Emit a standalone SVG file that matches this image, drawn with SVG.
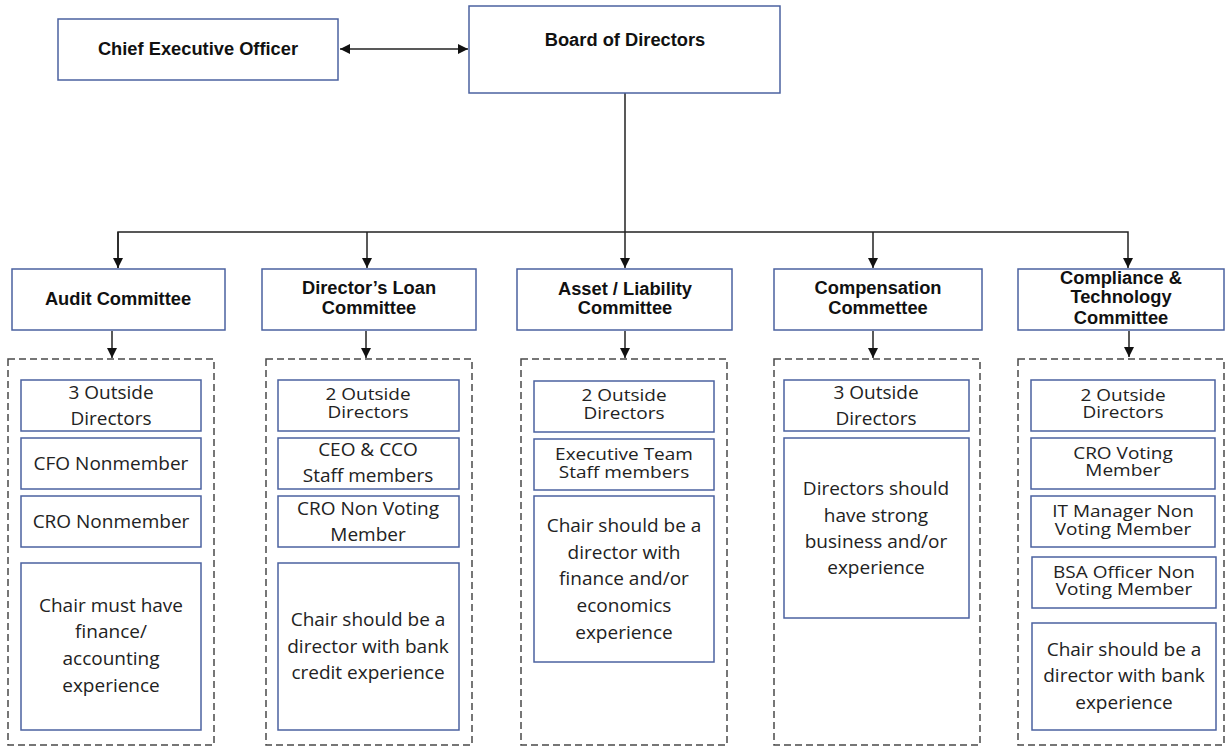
<svg xmlns="http://www.w3.org/2000/svg" width="1225" height="747" viewBox="0 0 1225 747">
  <defs>
    <marker id="arrow" viewBox="0 0 10 10" refX="10" refY="5" markerWidth="10" markerHeight="10" markerUnits="userSpaceOnUse" orient="auto-start-reverse">
      <path d="M0,0 L10,5 L0,10 Z" fill="#111"/>
    </marker>
  </defs>
  <style>
    .box { fill: #ffffff; stroke: #4b62a0; stroke-width: 1.5; }
    .group { fill: none; stroke: #4a4a4a; stroke-width: 1.5; stroke-dasharray: 7 4; }
    .head { font-family: "Liberation Sans", Arial, sans-serif; font-weight: bold; font-size: 18.3px; fill: #111; text-anchor: middle; }
    .item { font-family: "Open Sans", "Noto Sans", sans-serif; font-size: 19px; fill: #222; text-anchor: middle; }
    .conn { fill: none; stroke: #222; stroke-width: 1.5; }
  </style>
  <rect width="1225" height="747" fill="#ffffff"/>

  <!-- connectors -->
  <g id="connectors">
    <line class="conn" x1="340" y1="49" x2="468" y2="49" marker-start="url(#arrow)" marker-end="url(#arrow)"/>
    <line class="conn" x1="625" y1="93" x2="625" y2="268" marker-end="url(#arrow)"/>
    <polyline class="conn" points="118,268 118,232 1128,232 1128,268" marker-end="url(#arrow)"/>
    <line class="conn" x1="118" y1="232" x2="118" y2="268" marker-end="url(#arrow)"/>
    <line class="conn" x1="367" y1="232" x2="367" y2="268" marker-end="url(#arrow)"/>
    <line class="conn" x1="873" y1="232" x2="873" y2="268" marker-end="url(#arrow)"/>
    <line class="conn" x1="112" y1="331" x2="112" y2="358" marker-end="url(#arrow)"/>
    <line class="conn" x1="366" y1="331" x2="366" y2="358" marker-end="url(#arrow)"/>
    <line class="conn" x1="625" y1="331" x2="625" y2="358" marker-end="url(#arrow)"/>
    <line class="conn" x1="873" y1="331" x2="873" y2="358" marker-end="url(#arrow)"/>
    <line class="conn" x1="1129" y1="331" x2="1129" y2="357" marker-end="url(#arrow)"/>
  </g>

  <!-- top level -->
  <g id="ceo">
    <rect class="box" x="58" y="19" width="280" height="61"/>
    <text class="head" x="198" y="55">Chief Executive Officer</text>
  </g>
  <g id="board">
    <rect class="box" x="469" y="6" width="311" height="87"/>
    <text class="head" x="625" y="46">Board of Directors</text>
  </g>

  <!-- committees -->
  <g id="audit-committee">
    <rect class="box" x="12" y="269" width="213" height="61"/>
    <text class="head" x="118" y="305">Audit Committee</text>
  </g>
  <g id="loan-committee">
    <rect class="box" x="262" y="269" width="214" height="61"/>
    <text class="head" x="369" y="294">Director’s Loan<tspan x="369" dy="20">Committee</tspan></text>
  </g>
  <g id="alco-committee">
    <rect class="box" x="517" y="269" width="215" height="61"/>
    <text class="head" x="625" y="295">Asset / Liability<tspan x="625" dy="19">Committee</tspan></text>
  </g>
  <g id="compensation-committee">
    <rect class="box" x="774" y="269" width="208" height="61"/>
    <text class="head" x="878" y="294">Compensation<tspan x="878" dy="20">Commettee</tspan></text>
  </g>
  <g id="compliance-committee">
    <rect class="box" x="1018" y="269" width="206" height="61"/>
    <text class="head" x="1121" y="284">Compliance &amp;<tspan x="1121" dy="19">Technology</tspan><tspan x="1121" dy="21">Committee</tspan></text>
  </g>

  <!-- audit members -->
  <g id="audit-members">
    <rect class="group" x="8" y="359" width="206" height="386"/>
    <rect class="box" x="21" y="380" width="180" height="51"/>
    <text class="item" x="111" y="399">3 Outside<tspan x="111" dy="26">Directors</tspan></text>
    <rect class="box" x="21" y="438" width="180" height="51"/>
    <text class="item" x="111" y="470">CFO Nonmember</text>
    <rect class="box" x="21" y="496" width="180" height="51"/>
    <text class="item" x="111" y="528">CRO Nonmember</text>
    <rect class="box" x="21" y="563" width="180" height="167"/>
    <text class="item" x="111" y="612">Chair must have<tspan x="111" dy="26">finance/</tspan><tspan x="111" dy="27">accounting</tspan><tspan x="111" dy="27">experience</tspan></text>
  </g>

  <!-- loan members -->
  <g id="loan-members">
    <rect class="group" x="266" y="359" width="206" height="386"/>
    <rect class="box" x="278" y="380" width="181" height="51"/>
    <text class="item" transform="translate(368,400) scale(1,0.85)">2 Outside<tspan x="0" dy="21">Directors</tspan></text>
    <rect class="box" x="278" y="438" width="181" height="51"/>
    <text class="item" x="368" y="456">CEO &amp; CCO<tspan x="368" dy="26">Staff members</tspan></text>
    <rect class="box" x="278" y="496" width="181" height="51"/>
    <text class="item" x="368" y="515">CRO Non Voting<tspan x="368" dy="26">Member</tspan></text>
    <rect class="box" x="278" y="563" width="181" height="167"/>
    <text class="item" x="368" y="626">Chair should be a<tspan x="368" dy="27">director with bank</tspan><tspan x="368" dy="26">credit experience</tspan></text>
  </g>

  <!-- alco members -->
  <g id="alco-members">
    <rect class="group" x="521" y="359" width="206" height="386"/>
    <rect class="box" x="534" y="381" width="180" height="51"/>
    <text class="item" transform="translate(624,401) scale(1,0.85)">2 Outside<tspan x="0" dy="21">Directors</tspan></text>
    <rect class="box" x="534" y="439" width="180" height="51"/>
    <text class="item" transform="translate(624,460) scale(1,0.85)">Executive Team<tspan x="0" dy="21">Staff members</tspan></text>
    <rect class="box" x="534" y="496" width="180" height="166"/>
    <text class="item" x="624" y="532">Chair should be a<tspan x="624" dy="27">director with</tspan><tspan x="624" dy="26">finance and/or</tspan><tspan x="624" dy="27">economics</tspan><tspan x="624" dy="27">experience</tspan></text>
  </g>

  <!-- compensation members -->
  <g id="compensation-members">
    <rect class="group" x="774" y="359" width="206" height="386"/>
    <rect class="box" x="784" y="380" width="185" height="51"/>
    <text class="item" x="876" y="399">3 Outside<tspan x="876" dy="26">Directors</tspan></text>
    <rect class="box" x="784" y="438" width="185" height="180"/>
    <text class="item" x="876" y="495">Directors should<tspan x="876" dy="27">have strong</tspan><tspan x="876" dy="26">business and/or</tspan><tspan x="876" dy="26">experience</tspan></text>
  </g>

  <!-- compliance members -->
  <g id="compliance-members">
    <rect class="group" x="1018" y="359" width="206" height="386"/>
    <rect class="box" x="1031" y="380" width="184" height="51"/>
    <text class="item" transform="translate(1123,401) scale(1,0.85)">2 Outside<tspan x="0" dy="20">Directors</tspan></text>
    <rect class="box" x="1031" y="438" width="184" height="51"/>
    <text class="item" transform="translate(1123,459) scale(1,0.85)">CRO Voting<tspan x="0" dy="20">Member</tspan></text>
    <rect class="box" x="1031" y="496" width="184" height="51"/>
    <text class="item" transform="translate(1123,517) scale(1,0.85)">IT Manager Non<tspan x="0" dy="21">Voting Member</tspan></text>
    <rect class="box" x="1032" y="557" width="184" height="51"/>
    <text class="item" transform="translate(1124,578) scale(1,0.85)">BSA Officer Non<tspan x="0" dy="20">Voting Member</tspan></text>
    <rect class="box" x="1032" y="623" width="184" height="107"/>
    <text class="item" x="1124" y="656">Chair should be a<tspan x="1124" dy="26">director with bank</tspan><tspan x="1124" dy="27">experience</tspan></text>
  </g>
</svg>
